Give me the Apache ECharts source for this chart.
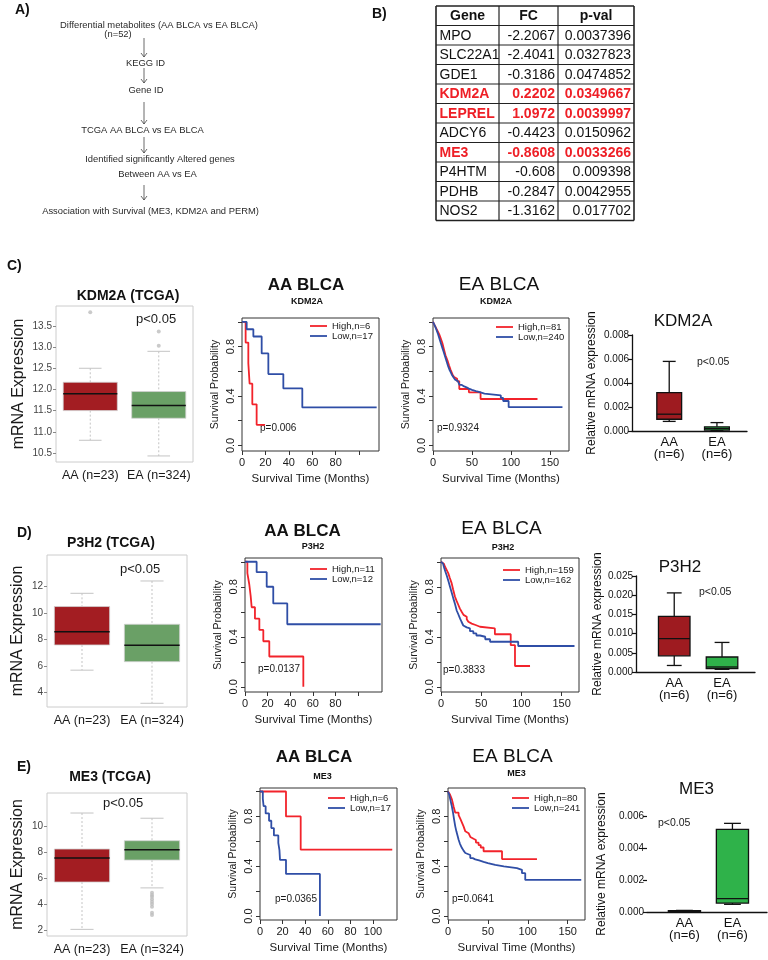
<!DOCTYPE html>
<html>
<head>
<meta charset="utf-8">
<script src="https://cdn.jsdelivr.net/npm/echarts@6.0.0/dist/echarts.min.js"></script>
<style>
html,body{margin:0;padding:0;background:#ffffff;}
#chart{width:768px;height:960px;}
</style>
</head>
<body>
<div id="chart"></div>
<script>
// ================= DATA =================
const flowSteps = [
  'Differential metabolites (AA BLCA vs EA BLCA)',
  '(n=52)',
  'KEGG ID',
  'Gene ID',
  'TCGA AA BLCA vs EA BLCA',
  'Identified significantly Altered genes',
  'Between AA vs EA',
  'Association with Survival (ME3, KDM2A and PERM)'
];

const tableHeader = ['Gene', 'FC', 'p-val'];
const tableGenes = ['MPO', 'SLC22A1', 'GDE1', 'KDM2A', 'LEPREL1', 'ADCY6', 'ME3', 'P4HTM', 'PDHB', 'NOS2'];
const tableFC = ['-2.2067', '-2.4041', '-0.3186', '0.2202', '1.0972', '-0.4423', '-0.8608', '-0.608', '-0.2847', '-1.3162'];
const tablePval = ['0.0037396', '0.0327823', '0.0474852', '0.0349667', '0.0039997', '0.0150962', '0.0033266', '0.009398', '0.0042955', '0.017702'];
const tableHighlighted = ['KDM2A', 'LEPREL1', 'ME3'];

const tcgaGroups = ['AA (n=23)', 'EA (n=324)'];
const qpcrGroups = ['AA\n(n=6)', 'EA\n(n=6)'];

// box statistics: [min, Q1, median, Q3, max]
const kdm2aTcgaAA = [10.8, 11.5, 11.9, 12.17, 12.5];
const kdm2aTcgaEA = [10.43, 11.32, 11.62, 11.95, 12.9];
const kdm2aTcgaOutAA = [13.82];
const kdm2aTcgaOutEA = [13.03, 13.37];

const p3h2TcgaAA = [5.7, 7.6, 8.6, 10.5, 11.5];
const p3h2TcgaEA = [3.2, 6.34, 7.58, 9.16, 12.43];
const p3h2TcgaOutAA = [];
const p3h2TcgaOutEA = [];

const me3TcgaAA = [2.05, 5.69, 7.54, 8.23, 11.0];
const me3TcgaEA = [5.24, 7.38, 8.17, 8.87, 10.6];
const me3TcgaOutAA = [];
const me3TcgaOutEA = [4.87, 4.69, 4.56, 4.36, 4.18, 4.0, 3.79, 3.33, 3.15];

const kdm2aQpcrAA = [0.0008, 0.00098, 0.0014, 0.0032, 0.0058];
const kdm2aQpcrEA = [0.00002, 0.00008, 0.0002, 0.00035, 0.0007];
const p3h2QpcrAA = [0.0017, 0.0042, 0.0087, 0.0145, 0.0206];
const p3h2QpcrEA = [0.0007, 0.0009, 0.0013, 0.0039, 0.0077];
const me3QpcrAA = [0.00001, 0.00002, 0.00004, 0.00008, 0.0001];
const me3QpcrEA = [0.00048, 0.00056, 0.00084, 0.00517, 0.00554];

// Kaplan-Meier curves: [time (months), survival probability]
const kmKdm2aAAHigh = [[0,1],[3.1,0.833],[5.4,0.667],[6.5,0.5],[8.8,0.333],[12.5,0.167],[19.7,0.167]];
const kmKdm2aAALow = [[0,1],[4,0.941],[9.7,0.882],[16.8,0.745],[22.5,0.578],[35.3,0.462],[51.5,0.308],[115,0.308]];
const kmKdm2aEAHigh = [[0,1],[2,0.975],[4,0.95],[6,0.925],[8,0.9],[10,0.865],[12,0.83],[14,0.78],[16,0.73],[18.5,0.69],[20.5,0.65],[22.7,0.61],[25,0.575],[27,0.555],[29,0.54],[31,0.52],[33.7,0.457],[46,0.43],[61,0.376],[134,0.376]];
const kmKdm2aEALow = [[0,1],[1.5,0.98],[3,0.96],[4.5,0.935],[6,0.91],[7.5,0.88],[9,0.85],[10.5,0.82],[12,0.79],[13.5,0.76],[15,0.73],[16.5,0.7],[18,0.67],[19.5,0.64],[21,0.615],[22.5,0.595],[24,0.575],[26,0.555],[28,0.535],[30,0.52],[32,0.505],[34,0.49],[37,0.478],[40,0.47],[43,0.46],[46,0.45],[50,0.44],[55,0.432],[60,0.42],[66,0.405],[87,0.385],[90,0.36],[97,0.31],[166,0.31]];

const kmP3h2AAHigh = [[0,1],[2.1,0.909],[3.8,0.818],[5,0.727],[5.9,0.636],[8.8,0.545],[12.7,0.455],[16.2,0.364],[21.5,0.242],[51.6,0]];
const kmP3h2AALow = [[0,1],[10.3,0.917],[19.2,0.8],[25,0.667],[37.4,0.5],[120,0.5]];
const kmP3h2EAHigh = [[0,1],[2,0.985],[3.5,0.97],[5,0.96],[7,0.935],[9.1,0.907],[11,0.87],[13.3,0.827],[15,0.78],[17.4,0.72],[19.5,0.685],[21.6,0.654],[23.5,0.625],[25.7,0.6],[28,0.575],[29.9,0.56],[32,0.54],[34,0.52],[36,0.505],[38.2,0.494],[43,0.48],[48.5,0.467],[67,0.42],[86.7,0.333],[92,0.166],[110.7,0.166]];
const kmP3h2EALow = [[0,1],[1.5,0.985],[2.5,0.97],[4,0.95],[5.5,0.92],[7.1,0.89],[9,0.85],[11.2,0.8],[13,0.76],[15.3,0.707],[17.5,0.66],[19.5,0.61],[21.5,0.58],[23.6,0.547],[25.5,0.52],[27.7,0.49],[30,0.475],[32,0.467],[36,0.445],[40.2,0.427],[44,0.41],[48.5,0.4],[55,0.38],[61,0.36],[96,0.326],[166,0.326]];

const kmMe3AAHigh = [[0,1],[23,0.8],[36,0.533],[117,0.533]];
const kmMe3AALow = [[0,1],[2.5,0.941],[3.2,0.882],[5,0.824],[8,0.765],[10,0.706],[12.3,0.647],[16.2,0.588],[17.2,0.529],[17.7,0.451],[23,0.338],[53,0]];
const kmMe3EAHigh = [[0,1],[2.5,0.975],[5,0.935],[7,0.88],[9.1,0.83],[13.3,0.81],[15.5,0.78],[17.5,0.75],[19.5,0.72],[21.7,0.68],[23.5,0.665],[25.8,0.65],[28,0.635],[30,0.62],[32,0.61],[35,0.59],[38.3,0.57],[41,0.55],[44.6,0.52],[67.7,0.457],[111.5,0.457]];
const kmMe3EALow = [[0,1],[1.5,0.975],[2.9,0.935],[4.5,0.89],[6.3,0.83],[7.5,0.78],[9.1,0.72],[10.5,0.68],[12,0.645],[13.3,0.613],[15,0.58],[17.5,0.546],[19.5,0.525],[21.7,0.506],[24,0.49],[27.9,0.465],[31,0.455],[34.2,0.446],[39,0.435],[44.6,0.425],[50,0.41],[59.2,0.398],[70,0.385],[86.4,0.371],[92.7,0.344],[96.8,0.29],[167,0.29]];

const kmLegendKdm2aAA = ['High,n=6', 'Low,n=17'];
const kmLegendKdm2aEA = ['High,n=81', 'Low,n=240'];
const kmLegendP3h2AA = ['High,n=11', 'Low,n=12'];
const kmLegendP3h2EA = ['High,n=159', 'Low,n=162'];
const kmLegendMe3AA = ['High,n=6', 'Low,n=17'];
const kmLegendMe3EA = ['High,n=80', 'Low,n=241'];

const kmYTicks = [0, 0.2, 0.4, 0.6, 0.8, 1.0];
const kmYTickLabels = [0, 0.4, 0.8];
const kmAAxTicks = [0, 20, 40, 60, 80, 100];
const kmAAxLabelsShort = [0, 20, 40, 60, 80];
const kmAAxLabelsLong = [0, 20, 40, 60, 80, 100];
const kmEAxTicks = [0, 50, 100, 150];

const kdm2aTcgaTicks = [10.5, 11.0, 11.5, 12.0, 12.5, 13.0, 13.5];
const p3h2TcgaTicks = [4, 6, 8, 10, 12];
const me3TcgaTicks = [2, 4, 6, 8, 10];

// ================= STYLE / LAYOUT =================
const FONT = '"Liberation Sans", Arial, Helvetica, sans-serif';
const RED = '#f2232b', BLUE = '#2f4ea6';
const TCGA_FILL = ['#a31d22', '#6aa066'];
const QPCR_FILL = ['#9e1b20', '#2fb24a'];
const INK = '#1a1a1a';

const grids = [], xAxes = [], yAxes = [], series = [], legends = [], graphics = [];

function addGrid(r, border) {
  grids.push({left: r[0], top: r[1], width: r[2], height: r[3], show: !!border,
    borderColor: border || 'transparent', borderWidth: border ? 1 : 0,
    backgroundColor: 'transparent', containLabel: false});
  return grids.length - 1;
}

function boxRender(fills, boxRatio, capRatio, st) {
  return function (params, api) {
    const i = api.value(0);
    const pt = k => api.coord([i, api.value(k)]);
    const cx = pt(1)[0];
    const yMin = pt(1)[1], yQ1 = pt(2)[1], yMed = pt(3)[1], yQ3 = pt(4)[1], yMax = pt(5)[1];
    const band = api.size([1, 0])[0];
    const bw = band * boxRatio, cw = band * capRatio;
    const wStyle = {stroke: st.whisker, lineWidth: st.whiskerWidth};
    if (st.whiskerDash) wStyle.lineDash = st.whiskerDash;
    const cStyle = {stroke: st.whisker, lineWidth: st.whiskerWidth};
    return {type: 'group', children: [
      {type: 'line', shape: {x1: cx, y1: yMax, x2: cx, y2: yQ3}, style: wStyle},
      {type: 'line', shape: {x1: cx, y1: yQ1, x2: cx, y2: yMin}, style: wStyle},
      {type: 'line', shape: {x1: cx - cw / 2, y1: yMax, x2: cx + cw / 2, y2: yMax}, style: cStyle},
      {type: 'line', shape: {x1: cx - cw / 2, y1: yMin, x2: cx + cw / 2, y2: yMin}, style: cStyle},
      {type: 'rect', shape: {x: cx - bw / 2, y: yQ3, width: bw, height: Math.max(yQ1 - yQ3, 1)},
        style: {fill: fills[i], stroke: st.boxStroke, lineWidth: st.boxWidth}},
      {type: 'line', shape: {x1: cx - bw / 2, y1: yMed, x2: cx + bw / 2, y2: yMed},
        style: {stroke: st.median, lineWidth: st.medianWidth}}
    ]};
  };
}

function tcgaPanel(rect, yMin, yMax, ticks, fmt, nameGap, boxes, outliers) {
  const gi = addGrid(rect, '#cccccc');
  xAxes.push({gridIndex: gi, type: 'category', data: tcgaGroups,
    axisLine: {show: false, onZero: false}, axisTick: {show: false}, splitLine: {show: false},
    axisLabel: {interval: 0, hideOverlap: false, fontSize: 12.5, color: INK, margin: 7, fontFamily: FONT}});
  yAxes.push({gridIndex: gi, type: 'value', min: yMin, max: yMax,
    axisLine: {show: false, onZero: false}, splitLine: {show: false},
    axisTick: {show: true, customValues: ticks, length: 3, lineStyle: {color: '#888'}},
    axisLabel: {customValues: ticks, fontSize: 10, color: '#444', margin: 4, fontFamily: FONT, formatter: fmt},
    name: 'mRNA Expression', nameLocation: 'middle', nameGap: nameGap,
    nameTextStyle: {fontSize: 16, color: INK, fontFamily: FONT}});
  series.push({type: 'custom', xAxisIndex: gi, yAxisIndex: gi, silent: true, z: 2,
    renderItem: boxRender(TCGA_FILL, 0.79, 0.33, {whisker: '#c4c4c4', whiskerWidth: 1, whiskerDash: [2, 2],
      boxStroke: '#d2d2d2', boxWidth: 0.8, median: '#111', medianWidth: 1.5}),
    encode: {x: 0, y: [1, 2, 3, 4, 5]},
    data: boxes.map((b, i) => [i].concat(b))});
  const pts = [];
  outliers.forEach((arr, i) => arr.forEach(v => pts.push([i, v])));
  if (pts.length) {
    series.push({type: 'scatter', xAxisIndex: gi, yAxisIndex: gi, silent: true, z: 3,
      data: pts, symbolSize: 4, itemStyle: {color: '#bdbdbd'}});
  }
}

function kmPanel(rect, xMax, yMin, yMax, xTicks, xLabels, names, high, low, legendPos) {
  const gi = addGrid(rect, '#333333');
  xAxes.push({gridIndex: gi, type: 'value', min: 0, max: xMax,
    axisLine: {show: false, onZero: false}, splitLine: {show: false},
    axisTick: {show: true, customValues: xTicks, length: 4, lineStyle: {color: '#333'}},
    axisLabel: {customValues: xLabels, fontSize: 11, color: INK, margin: 6, fontFamily: FONT},
    name: 'Survival Time (Months)', nameLocation: 'middle', nameGap: 22,
    nameTextStyle: {fontSize: 11.5, color: INK, fontFamily: FONT}});
  yAxes.push({gridIndex: gi, type: 'value', min: yMin, max: yMax,
    axisLine: {show: false, onZero: false}, splitLine: {show: false},
    axisTick: {show: true, customValues: kmYTicks, length: 4, lineStyle: {color: '#333'}},
    axisLabel: {customValues: kmYTickLabels, rotate: 90, fontSize: 11, color: INK, margin: 6,
      fontFamily: FONT, formatter: v => Number(v).toFixed(1)},
    name: 'Survival Probability', nameLocation: 'middle', nameGap: 21,
    nameTextStyle: {fontSize: 10.5, color: INK, fontFamily: FONT}});
  series.push({type: 'line', name: names[0], xAxisIndex: gi, yAxisIndex: gi, data: high, step: 'end',
    symbol: 'none', silent: true, z: 3, lineStyle: {color: RED, width: 1.8}, itemStyle: {color: RED}});
  series.push({type: 'line', name: names[1], xAxisIndex: gi, yAxisIndex: gi, data: low, step: 'end',
    symbol: 'none', silent: true, z: 4, lineStyle: {color: BLUE, width: 1.8}, itemStyle: {color: BLUE}});
  legends.push({data: names, left: legendPos[0], top: legendPos[1], orient: 'vertical', icon: 'rect',
    itemWidth: 17, itemHeight: 1.8, itemGap: 0, padding: 0, selectedMode: false,
    textStyle: {fontSize: 9.5, color: INK, fontFamily: FONT, lineHeight: 10}});
}

function qpcrPanel(rect, xMin, xMax, yMax, interval, nameGap, showYLine, boxes, boxRatio, capRatio) {
  const gi = addGrid(rect, null);
  xAxes.push({gridIndex: gi, type: 'value', min: xMin, max: xMax,
    axisLine: {show: true, onZero: false, lineStyle: {color: '#111', width: 1.3}},
    axisTick: {show: false}, splitLine: {show: false},
    axisLabel: {customValues: [0, 1], formatter: v => qpcrGroups[Math.round(v)], fontSize: 13, lineHeight: 12,
      color: '#111', margin: 5, fontFamily: FONT}});
  yAxes.push({gridIndex: gi, type: 'value', min: 0, max: yMax, interval: interval,
    axisLine: {show: showYLine, onZero: false, lineStyle: {color: '#111', width: 1.3}},
    axisTick: {show: true, length: 4, lineStyle: {color: '#111', width: 1.2}}, splitLine: {show: false},
    axisLabel: {fontSize: 10, color: '#111', margin: 3, fontFamily: FONT, formatter: v => Number(v).toFixed(3)},
    name: 'Relative mRNA expression', nameLocation: 'middle', nameGap: nameGap,
    nameTextStyle: {fontSize: 12, color: '#111', fontFamily: FONT}});
  series.push({type: 'custom', xAxisIndex: gi, yAxisIndex: gi, silent: true, z: 2,
    renderItem: boxRender(QPCR_FILL, boxRatio, capRatio, {whisker: '#111', whiskerWidth: 1.3,
      boxStroke: '#111', boxWidth: 1.3, median: '#111', medianWidth: 1.3}),
    encode: {x: 0, y: [1, 2, 3, 4, 5]},
    data: boxes.map((b, i) => [i].concat(b))});
}

function txt(s, x, y, size, opts) {
  const st = Object.assign({text: s, fontSize: size, fontFamily: FONT, fill: INK,
    align: 'left', verticalAlign: 'middle'}, opts || {});
  st.textAlign = st.align; st.textVerticalAlign = st.verticalAlign;
  graphics.push({type: 'text', x: x, y: y, silent: true, style: st});
}
function seg(x1, y1, x2, y2, color, w) {
  graphics.push({type: 'line', silent: true, shape: {x1, y1, x2, y2}, style: {stroke: color, lineWidth: w}});
}

// ---------- Row C ----------
tcgaPanel([56, 306, 137, 156], 10.287, 13.97, kdm2aTcgaTicks, v => Number(v).toFixed(1), 29,
  [kdm2aTcgaAA, kdm2aTcgaEA], [kdm2aTcgaOutAA, kdm2aTcgaOutEA]);
kmPanel([242, 318, 137, 133], 117, -0.045, 1.032, kmAAxTicks, kmAAxLabelsShort, kmLegendKdm2aAA,
  kmKdm2aAAHigh, kmKdm2aAALow, [310, 321]);
kmPanel([433, 318, 136, 133], 174.4, -0.045, 1.032, kmEAxTicks, kmEAxTicks, kmLegendKdm2aEA,
  kmKdm2aEAHigh, kmKdm2aEALow, [496, 322]);
qpcrPanel([632, 335, 115, 96], -0.78, 1.63, 0.008, 0.002, 34, true, [kdm2aQpcrAA, kdm2aQpcrEA], 0.52, 0.27);

// ---------- Row D ----------
tcgaPanel([47, 555, 140, 152], 2.92, 14.39, p3h2TcgaTicks, v => String(v), 21,
  [p3h2TcgaAA, p3h2TcgaEA], [p3h2TcgaOutAA, p3h2TcgaOutEA]);
kmPanel([245, 558, 137, 134], 121.2, -0.042, 1.03, kmAAxTicks, kmAAxLabelsShort, kmLegendP3h2AA,
  kmP3h2AAHigh, kmP3h2AALow, [310, 564]);
kmPanel([441, 558, 138, 134], 171.6, -0.042, 1.03, kmEAxTicks, kmEAxTicks, kmLegendP3h2EA,
  kmP3h2EAHigh, kmP3h2EALow, [503, 565]);
qpcrPanel([636, 576, 119, 96], -0.8, 1.69, 0.025, 0.005, 30, true, [p3h2QpcrAA, p3h2QpcrEA], 0.66, 0.31);

// ---------- Row E ----------
tcgaPanel([47, 793, 140, 143], 1.54, 12.54, me3TcgaTicks, v => String(v), 21,
  [me3TcgaAA, me3TcgaEA], [me3TcgaOutAA, me3TcgaOutEA]);
kmPanel([260, 788, 137, 132], 121.2, -0.032, 1.028, kmAAxTicks, kmAAxLabelsLong, kmLegendMe3AA,
  kmMe3AAHigh, kmMe3AALow, [328, 793]);
kmPanel([448, 788, 137, 132], 171.7, -0.032, 1.028, kmEAxTicks, kmEAxTicks, kmLegendMe3EA,
  kmMe3EAHigh, kmMe3EALow, [512, 793]);
qpcrPanel([647, 816, 120, 96], -0.78, 1.72, 0.006, 0.002, 39, false, [me3QpcrAA, me3QpcrEA], 0.67, 0.35);

// ---------- Panel letters ----------
const letterStyle = {fontWeight: 'bold', fill: '#111'};
txt('A)', 15, 10, 14, letterStyle);
txt('B)', 372, 14, 14, letterStyle);
txt('C)', 7, 266, 14, letterStyle);
txt('D)', 17, 533, 14, letterStyle);
txt('E)', 17, 767, 14, letterStyle);

// ---------- Panel A flowchart ----------
const flowPos = [[159, 25], [118, 34], [145.5, 63], [146, 90], [142.5, 130], [160, 159], [157.5, 174], [150.5, 211]];
flowSteps.forEach((s, i) => txt(s, flowPos[i][0], flowPos[i][1], 9.4, {align: 'center', fill: '#2a2a2a'}));
const arrowPos = [[144, 38, 57], [144, 68, 83], [144, 102, 124], [144, 137, 153], [144, 185, 200]];
arrowPos.forEach(a => {
  seg(a[0], a[1], a[0], a[2], '#444', 0.8);
  graphics.push({type: 'polyline', silent: true, shape: {points: [[a[0] - 3, a[2] - 4], [a[0], a[2]], [a[0] + 3, a[2] - 4]]},
    style: {stroke: '#444', lineWidth: 0.8, fill: null}});
});

// ---------- Panel B table ----------
const TX = [436, 499, 558, 634], TY0 = 6, RH = 19.5;
const nRows = tableGenes.length + 1;
tableHeader.forEach((h, c) => txt(h, (TX[c] + TX[c + 1]) / 2, TY0 + RH / 2 + 0.5, 14, {align: 'center', fontWeight: 'bold', fill: '#111'}));
tableGenes.forEach((g, r) => {
  const hl = tableHighlighted.indexOf(g) >= 0;
  const st = hl ? {fill: '#ee1f26', fontWeight: 'bold'} : {fill: '#111'};
  const y = TY0 + RH * (r + 1.5) + 0.5;
  txt(g, TX[0] + 3.5, y, 14, Object.assign({align: 'left', width: 61, overflow: 'truncate', ellipsis: ''}, st));
  txt(tableFC[r], TX[2] - 3, y, 14, Object.assign({align: 'right'}, st));
  txt(tablePval[r], TX[3] - 3, y, 14, Object.assign({align: 'right'}, st));
});
for (let k = 0; k <= nRows; k++) seg(TX[0], TY0 + k * RH, TX[3], TY0 + k * RH, '#222', (k === 0 || k === nRows) ? 1.6 : 1.2);
TX.forEach((x, k) => seg(x, TY0, x, TY0 + nRows * RH, '#222', (k === 0 || k === 3) ? 1.6 : 1.2));

// ---------- Titles ----------
const tcgaTitle = {align: 'center', fontWeight: 'bold', fill: '#111'};
const aaTitle = {align: 'center', fontWeight: 'bold', fill: '#111'};
const eaTitle = {align: 'center', fill: '#111'};
const subTitle = {align: 'center', fontWeight: 'bold', fill: '#111'};
const relTitle = {align: 'center', fill: '#111'};

txt('KDM2A (TCGA)', 128, 296, 14, tcgaTitle);
txt('AA BLCA', 306, 285, 17, aaTitle);
txt('KDM2A', 307, 302, 9, subTitle);
txt('EA BLCA', 499, 285, 19, eaTitle);
txt('KDM2A', 496, 302, 9, subTitle);
txt('KDM2A', 683, 321, 17, relTitle);

txt('P3H2 (TCGA)', 111, 543, 14, tcgaTitle);
txt('AA BLCA', 302.5, 531.5, 17, aaTitle);
txt('P3H2', 313, 547, 9, subTitle);
txt('EA BLCA', 501.5, 529, 19, eaTitle);
txt('P3H2', 503, 548, 9, subTitle);
txt('P3H2', 680, 567, 17, relTitle);

txt('ME3 (TCGA)', 110, 777, 14, tcgaTitle);
txt('AA BLCA', 314, 757, 17, aaTitle);
txt('ME3', 322.5, 777, 9, subTitle);
txt('EA BLCA', 512.5, 757, 19, eaTitle);
txt('ME3', 516.5, 774, 9, subTitle);
txt('ME3', 696.5, 789, 17, relTitle);

// ---------- p-values ----------
txt('p<0.05', 136, 319, 13);
txt('p<0.05', 120, 569, 13);
txt('p<0.05', 103, 803, 13);
txt('p=0.006', 260, 428, 10);
txt('p=0.9324', 437, 428, 10);
txt('p=0.0137', 258, 669, 10);
txt('p=0.3833', 443, 670, 10);
txt('p=0.0365', 275, 899, 10);
txt('p=0.0641', 452, 899, 10);
txt('p<0.05', 697, 362, 10.5);
txt('p<0.05', 699, 592, 10.5);
txt('p<0.05', 658, 823, 10.5);

const chart = echarts.init(document.getElementById('chart'), null, {renderer: 'canvas'});
chart.setOption({
  animation: false,
  backgroundColor: '#ffffff',
  textStyle: {fontFamily: FONT},
  grid: grids,
  xAxis: xAxes,
  yAxis: yAxes,
  legend: legends,
  series: series,
  graphic: {elements: graphics}
});
</script>
</body>
</html>
